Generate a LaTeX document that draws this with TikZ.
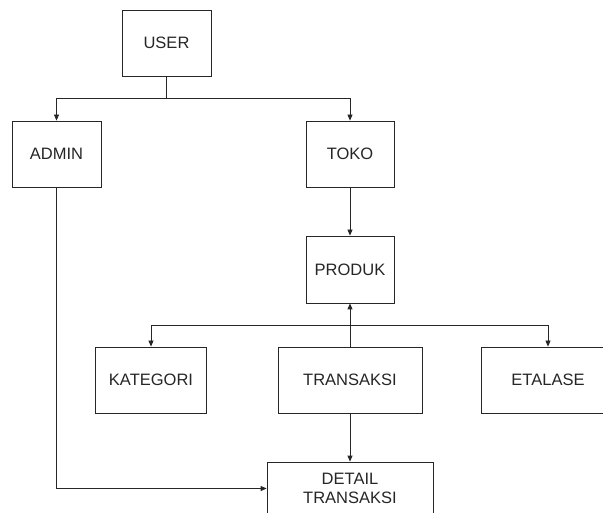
\documentclass[tikz,border=0pt]{standalone}
\usepackage{fontspec}
\setmainfont{Liberation Sans}
\usetikzlibrary{arrows.meta}
\begin{document}
\begin{tikzpicture}[x=1pt,y=-1pt,
  box/.style={draw=black!85, line width=0.8pt, rectangle, inner sep=0pt, align=center,
    font=\fontsize{16.5}{19.5}\selectfont, text=black!85},
  conn/.style={draw=black!85, line width=0.8pt},
  arr/.style={conn, -{Triangle[length=6pt,width=5pt]}}]
\useasboundingbox (0,0) rectangle (603,513);
\clip (0,0) rectangle (603,513);
\fill[white] (0,0) rectangle (603,513);
\node[box, minimum width=89pt, minimum height=66pt] (user) at (166.5,43) {USER};
\node[box, minimum width=89pt, minimum height=66pt] (admin) at (56.5,154) {ADMIN};
\node[box, minimum width=88pt, minimum height=66pt] (toko) at (350,154) {TOKO};
\node[box, minimum width=88pt, minimum height=67pt] (produk) at (350,269.5) {PRODUK};
\node[box, minimum width=111pt, minimum height=66pt] (kategori) at (151,380) {KATEGORI};
\node[box, minimum width=144pt, minimum height=66pt] (transaksi) at (350,380) {TRANSAKSI};
\node[box, minimum width=133pt, minimum height=66pt] (etalase) at (548,380) {ETALASE};
\node[box, minimum width=166pt, minimum height=53pt] (detail) at (350,488.5) {DETAIL\\TRANSAKSI};
\coordinate (j1) at (166.5,98);
\coordinate (j2) at (350,325);
\draw[conn] (user) -- (j1);
\draw[arr] (j1) -| (admin);
\draw[arr] (j1) -| (toko);
\draw[arr] (toko) -- (produk);
\draw[arr] (transaksi) -- (produk);
\draw[arr] (j2) -| (kategori);
\draw[arr] (j2) -| (etalase);
\draw[arr] (transaksi) -- (detail);
\draw[arr] (admin) |- (detail);
\end{tikzpicture}
\end{document}
